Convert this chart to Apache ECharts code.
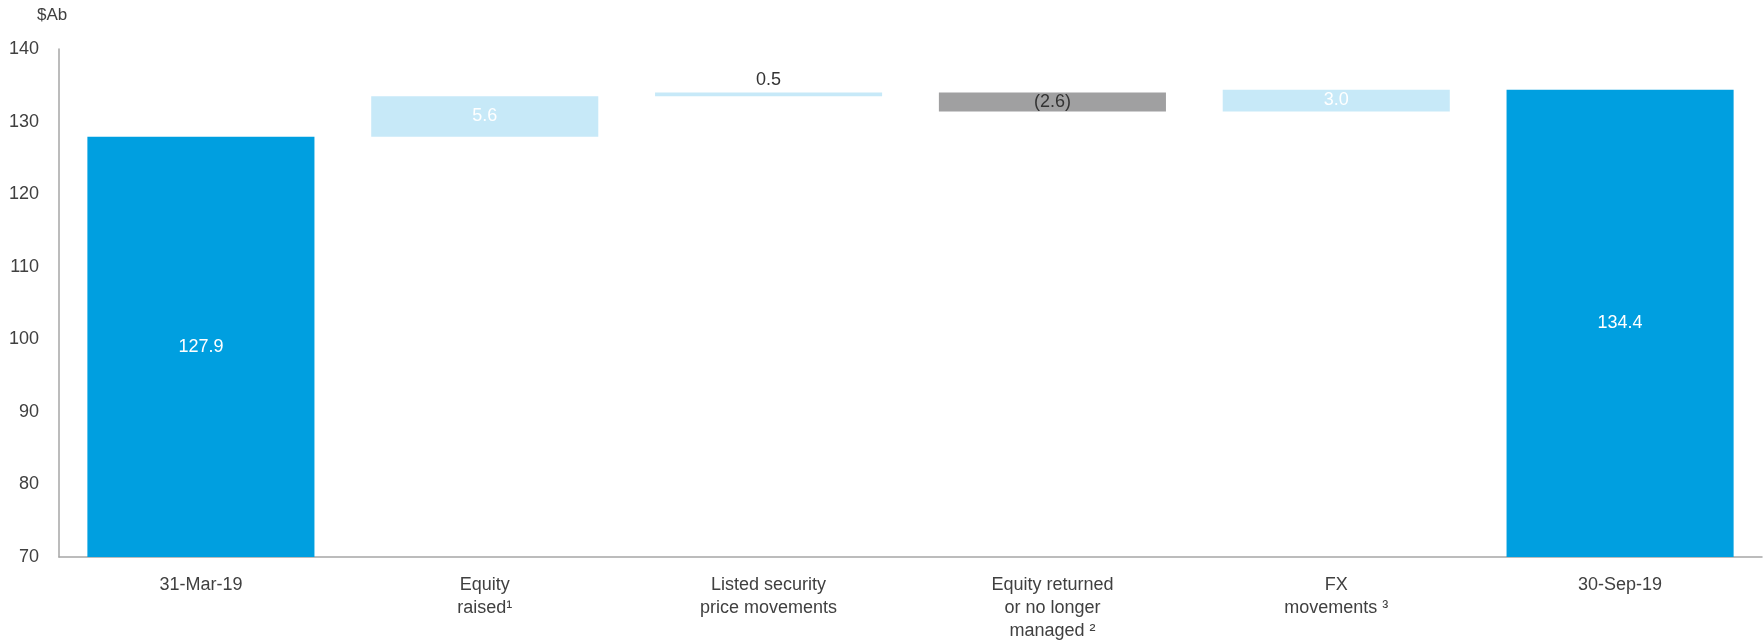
<!DOCTYPE html>
<html>
<head>
<meta charset="utf-8">
<script src="https://cdn.jsdelivr.net/npm/echarts@6/dist/echarts.min.js"></script>
<style>
  html, body { margin: 0; padding: 0; background: #ffffff; }
  #chart { width: 1763px; height: 643px; }
</style>
</head>
<body>
<div id="chart"></div>
<script>
// Funds under management bridge, $A billions
const categories = [
  '31-Mar-19',
  'Equity\nraised\u00B9',
  'Listed security\nprice movements',
  'Equity returned\nor no longer\nmanaged \u00B2',
  'FX\nmovements \u00B3',
  '30-Sep-19'
];
const openingTotal = 127.9;
const movements = [5.6, 0.5, -2.6, 3.0];
const closingTotal = 134.4;
const yTicks = [70, 80, 90, 100, 110, 120, 130, 140];
const unitLabel = '$Ab';

const FONT = '"Liberation Sans Narrow", "Arial Narrow", "Liberation Sans", Arial, sans-serif';
const TEXT_COLOR = '#404040';
const TOTAL_COLOR = '#009FE0';
const UP_COLOR = '#C7E9F8';
const DOWN_COLOR = '#A0A0A1';

// Waterfall: an invisible base stacked under each visible step
const baseData = [0];
const stepData = [];
let running = openingTotal;
stepData.push({ value: openingTotal, kind: 'total', delta: openingTotal });
movements.forEach(d => {
  const next = +(running + d).toFixed(1);
  baseData.push(Math.min(running, next));
  stepData.push({ value: Math.abs(d), kind: d >= 0 ? 'up' : 'down', delta: d });
  running = next;
});
baseData.push(0);
stepData.push({ value: closingTotal, kind: 'total', delta: closingTotal });

const fmt = v => v < 0 ? '(' + Math.abs(v).toFixed(1) + ')' : v.toFixed(1);

const visibleData = stepData.map(s => {
  const color = s.kind === 'total' ? TOTAL_COLOR : (s.kind === 'up' ? UP_COLOR : DOWN_COLOR);
  const small = Math.abs(s.delta) < 1;
  return {
    value: s.value,
    itemStyle: { color: color },
    label: {
      show: true,
      position: small ? 'top' : 'inside',
      distance: 4,
      color: (small || s.kind === 'down') ? '#333333' : '#ffffff',
      formatter: () => fmt(s.delta)
    }
  };
});

const chart = echarts.init(document.getElementById('chart'), null, { renderer: 'canvas' });
chart.setOption({
  animation: false,
  backgroundColor: '#ffffff',
  textStyle: { fontFamily: FONT },
  // Unit caption above the value axis
  graphic: [{
    type: 'text',
    left: 37,
    top: 7,
    style: {
      text: unitLabel,
      fill: TEXT_COLOR,
      fontFamily: FONT,
      fontSize: 17
    }
  }],
  grid: { left: 59, right: 1, top: 49, bottom: 85, containLabel: false },
  xAxis: {
    type: 'category',
    data: categories,
    axisLine: { show: true, lineStyle: { color: '#A6A6A6', width: 1.5 } },
    axisTick: { show: false },
    axisLabel: {
      interval: 0,
      margin: 17,
      color: TEXT_COLOR,
      fontFamily: FONT,
      fontSize: 18,
      lineHeight: 23,
      align: 'center'
    }
  },
  yAxis: {
    type: 'value',
    min: yTicks[0],
    max: yTicks[yTicks.length - 1],
    interval: yTicks[1] - yTicks[0],
    axisLine: { show: true, lineStyle: { color: '#A6A6A6', width: 1.5 } },
    axisTick: { show: false },
    splitLine: { show: false },
    axisLabel: {
      margin: 20,
      color: TEXT_COLOR,
      fontFamily: FONT,
      fontSize: 18
    }
  },
  series: [
    {
      name: 'base',
      type: 'bar',
      stack: 'bridge',
      barWidth: '80%',
      itemStyle: { color: 'transparent' },
      emphasis: { disabled: true },
      data: baseData
    },
    {
      name: 'step',
      type: 'bar',
      stack: 'bridge',
      barWidth: '80%',
      label: { fontFamily: FONT, fontSize: 18 },
      data: visibleData
    }
  ]
});
</script>
</body>
</html>
